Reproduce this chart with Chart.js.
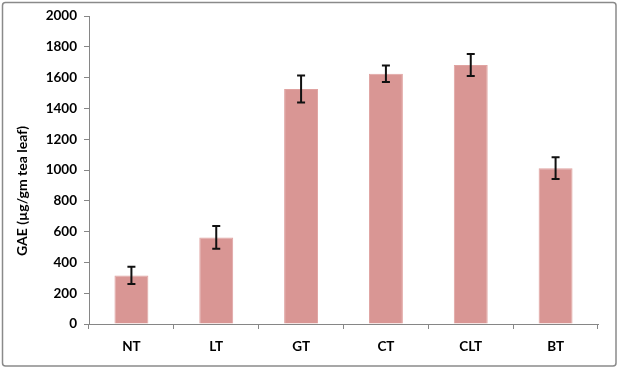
<!DOCTYPE html>
<html>
<head>
<meta charset="utf-8">
<script src="https://cdn.jsdelivr.net/npm/chart.js@4.4.0/dist/chart.umd.min.js"></script>
<style>
  body { margin: 0; background: #fff; }
  #wrap { width: 618px; height: 368px; }
</style>
</head>
<body>
<div id="wrap"><canvas id="chart" width="618" height="368"></canvas></div>
<script>
const categories = ['NT', 'LT', 'GT', 'CT', 'CLT', 'BT'];
const gaeValues = [315, 562, 1526, 1625, 1682, 1012];
const gaeErrors = [56, 74, 88, 53, 71, 71];
const yTicks = [0, 200, 400, 600, 800, 1000, 1200, 1400, 1600, 1800, 2000];
const yTitle = 'GAE (µg/gm tea leaf)';

// border round the whole chart, like the office-style frame
const framePlugin = {
    id: 'frame',
    beforeDraw(chart) {
        const ctx = chart.ctx;
        ctx.save();
        ctx.fillStyle = '#fff';
        ctx.fillRect(0, 0, chart.width, chart.height);
        ctx.strokeStyle = '#8a8a8a';
        ctx.lineWidth = 1.5;
        ctx.beginPath();
        ctx.roundRect(2.5, 2.5, chart.width - 4.5, chart.height - 4.5, 3);
        ctx.stroke();
        ctx.restore();
    }
};

// y title sits a bit below the axis middle in the original
const yTitlePlugin = {
    id: 'yTitle',
    afterDraw(chart) {
        const ctx = chart.ctx;
        ctx.save();
        ctx.translate(22, 191);
        ctx.rotate(-Math.PI / 2);
        ctx.font = 'bold 14px Lato';
        ctx.fillStyle = '#000';
        ctx.textAlign = 'center';
        ctx.textBaseline = 'middle';
        ctx.fillText(yTitle, 0, 0);
        ctx.restore();
    }
};

const errorBarPlugin = {
    id: 'errorBars',
    afterDatasetsDraw(chart) {
        const ctx = chart.ctx;
        const y = chart.scales.y;
        const meta = chart.getDatasetMeta(0);
        ctx.save();
        ctx.strokeStyle = '#111';
        ctx.lineWidth = 2;
        meta.data.forEach((bar, i) => {
            const top = y.getPixelForValue(gaeValues[i] + gaeErrors[i]);
            const bot = y.getPixelForValue(gaeValues[i] - gaeErrors[i]);
            const x = bar.x;
            ctx.beginPath();
            ctx.moveTo(x, top); ctx.lineTo(x, bot);
            ctx.moveTo(x - 4, top); ctx.lineTo(x + 4, top);
            ctx.moveTo(x - 4, bot); ctx.lineTo(x + 4, bot);
            ctx.stroke();
        });
        ctx.restore();
    }
};

const tickFont = { family: 'Lato', size: 13.5, weight: 'bold' };

new Chart(document.getElementById('chart').getContext('2d'), {
    type: 'bar',
    data: {
        labels: categories,
        datasets: [{
            data: gaeValues,
            backgroundColor: '#d99694',
            borderColor: '#e0a3a1',
            borderWidth: 1,
            barPercentage: 0.4,
            categoryPercentage: 1.0
        }]
    },
    options: {
        responsive: false,
        animation: false,
        layout: { padding: { left: 0, top: 16, right: 20, bottom: 0 } },
        plugins: {
            legend: { display: false },
            tooltip: { enabled: false }
        },
        scales: {
            x: {
                grid: { drawOnChartArea: false, drawTicks: true, tickLength: 5, color: '#868686', offset: true },
                border: { color: '#868686' },
                ticks: { color: '#000', font: tickFont, padding: 10 },
                afterFit(scale) { scale.height = 44; }
            },
            y: {
                min: 0,
                max: 2000,
                grid: { drawOnChartArea: false, drawTicks: true, tickLength: 5, color: '#868686' },
                border: { color: '#868686' },
                ticks: {
                    color: '#000',
                    font: tickFont,
                    padding: 7,
                    stepSize: 200,
                    callback: (v) => yTicks.includes(v) ? String(v) : ''
                },
                afterFit(scale) { scale.width = 89; }
            }
        }
    },
    plugins: [framePlugin, errorBarPlugin, yTitlePlugin]
});
</script>
</body>
</html>
